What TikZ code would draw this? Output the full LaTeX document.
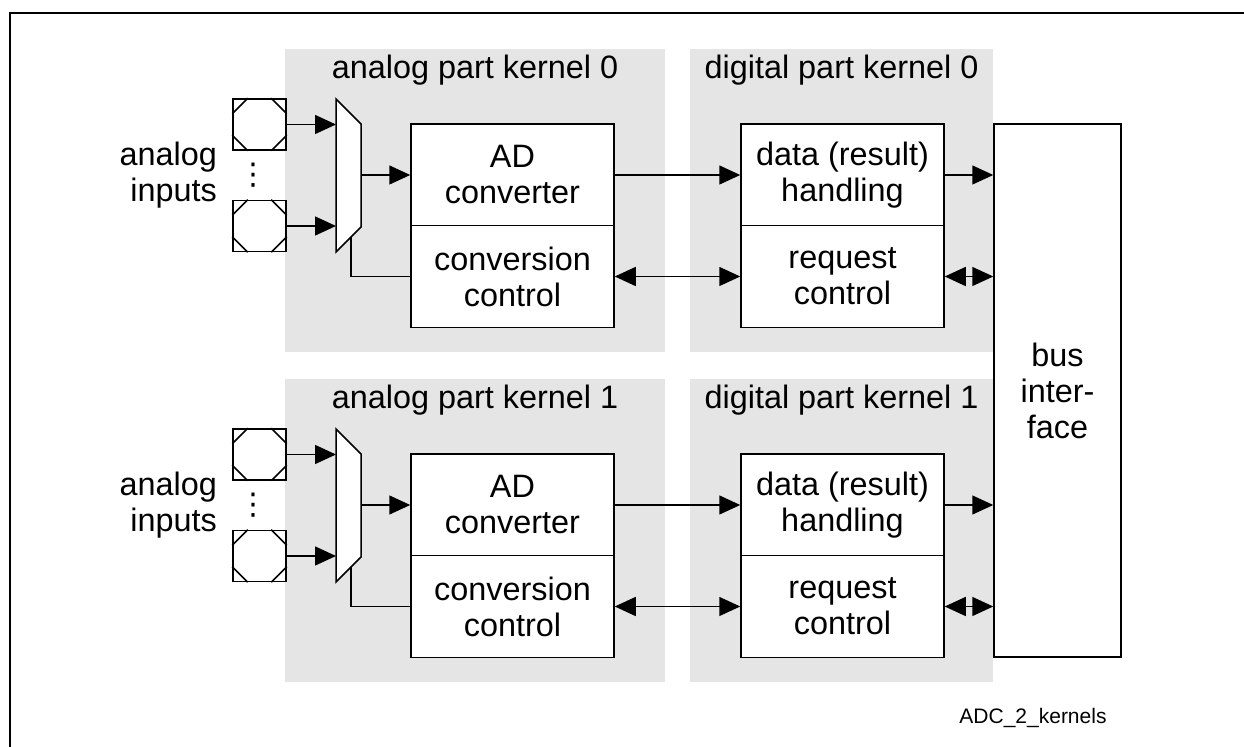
\documentclass[tikz,border=0pt]{standalone}
\usepackage{fontspec}
\setmainfont{Liberation Sans}
\newfontfamily\symfont{DejaVu Sans}
\usepackage{tikz}
\usetikzlibrary{calc}
\usetikzlibrary{arrows.meta}
\usetikzlibrary{positioning}

\tikzset{
	area/.style={fill=black!10},
	unit/.style={draw, fill=white, line width=0.75pt, minimum width=101.5pt, minimum height=51pt, align=center, inner sep=0pt},
	pad/.style={draw, fill=white, line width=0.75pt, minimum width=26.5pt, minimum height=25.5pt, inner sep=0pt},
	wire/.style={line width=0.75pt},
	sig/.style={wire, -{Triangle[length=10.5pt, width=9.5pt]}},
	both/.style={wire, {Triangle[length=10.5pt, width=9.5pt]}-{Triangle[length=10.5pt, width=9.5pt]}},
}

\begin{document}
\begin{tikzpicture}[x=0.5pt, y=-0.5pt, font=\fontsize{16.2}{18}\selectfont]

	\useasboundingbox (0,0) rectangle (1244,747);
	\def\cut{7.75pt}

	% frame
	\draw[line width=1pt] (1244,13) -- (10,13) -- (10,747);

	\node[draw, fill=white, line width=0.75pt, minimum width=63.5pt, minimum height=266.5pt, align=center] (bus) at (1057.5,390.5) {bus\\inter-\\face};

	\foreach \k in {0, 1}
		{
			\pgfmathsetmacro{\dy}{330*\k}

			% grey parts
			\fill[area] (285,49+\dy) rectangle (665,352+\dy);
			\fill[area] (690,49+\dy) rectangle (993,352+\dy);
			\node (at\k) at (475,70+\dy) {analog part kernel \k};
			\node (dt\k) at (841.5,70+\dy) {digital part kernel \k};

			% units
			\node[unit] (ad\k) at (512.5,175+\dy) {AD\\converter};
			\node[unit] (cc\k) at (512.5,276.5+\dy) {conversion\\control};
			\node[unit] (dh\k) at (842.5,175+\dy) {data (result)\\handling};
			\node[unit] (rc\k) at (842.5,276.5+\dy) {request\\control};

			% input pads
			\node[pad] (pa\k) at (259.5,124.5+\dy) {};
			\node[pad] (pb\k) at (259.5,226+\dy) {};
			\foreach \p in {pa\k, pb\k}
				\foreach \c/\sx/\sy in {north west/1/-1, north east/-1/-1, south west/1/1, south east/-1/1}
					\draw[wire] ($(\p.\c)+(\sx*\cut,0)$) -- ($(\p.\c)+(0,\sy*\cut)$);
			\node[inner sep=0pt, font=\symfont\fontsize{15}{18}\selectfont] (vd\k) at (253,175+\dy) {⋮};
			\node[align=right, anchor=east] (in\k) at (224,175+\dy) {analog\\inputs};

			% multiplexer
			\draw[wire, fill=white] (336,99+\dy) -- (361,124+\dy) -- (361,227+\dy) -- (336,252+\dy) -- cycle;
			\coordinate (mi\k) at (336,175+\dy);
			\coordinate (mo\k) at (361,175+\dy);
			\coordinate (ms\k) at (351,237+\dy);

			% connections
			\draw[sig] (pa\k.east) -- (pa\k.east -| mi\k);
			\draw[sig] (pb\k.east) -- (pb\k.east -| mi\k);
			\draw[sig] (mo\k) -- (ad\k.west);
			\draw[wire] (ms\k) |- (cc\k.west);
			\draw[sig] (ad\k.east) -- (dh\k.west);
			\draw[both] (cc\k.east) -- (rc\k.west);
			\draw[sig] (dh\k.east) -- (dh\k.east -| bus.west);
			\draw[both] (rc\k.east) -- (rc\k.east -| bus.west);
		}

	\node[font=\fontsize{10.5}{12}\selectfont] (name) at (1033,718) {ADC\_2\_kernels};

\end{tikzpicture}
\end{document}
